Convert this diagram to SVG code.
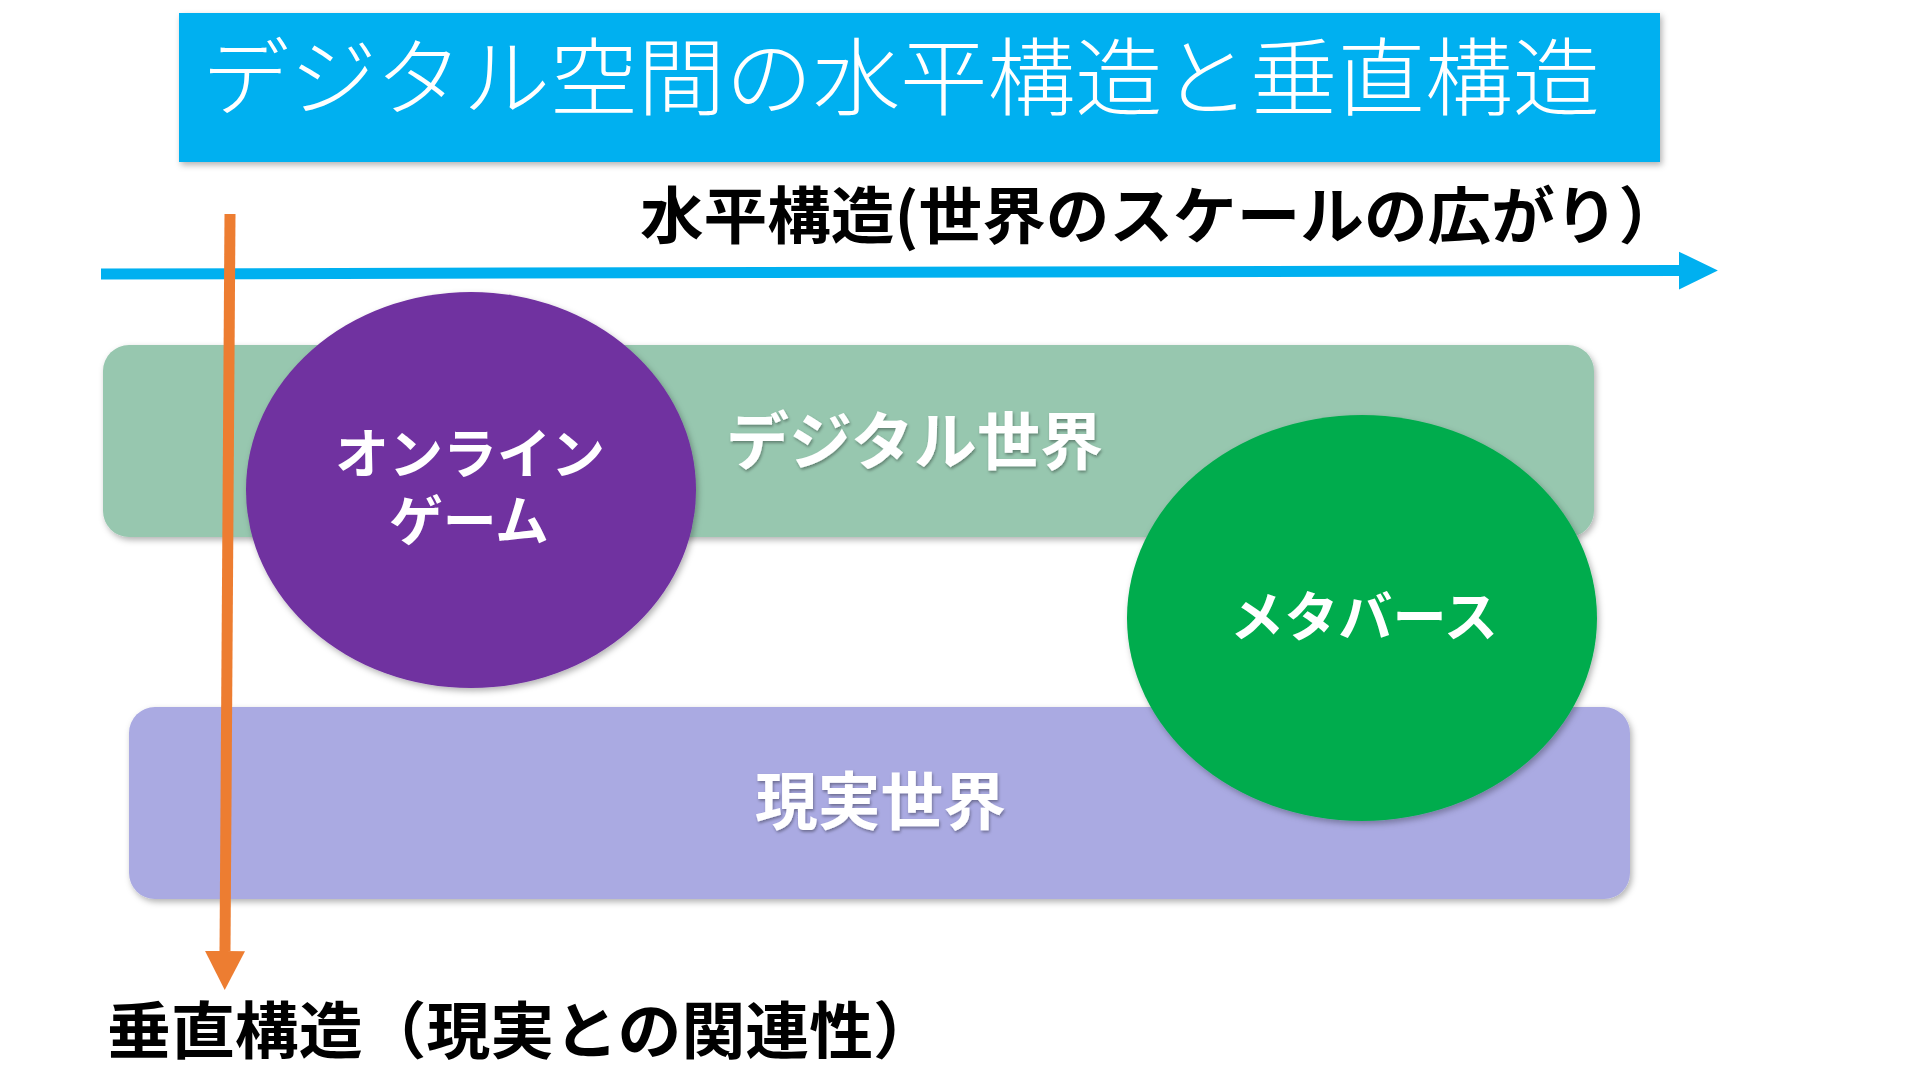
<svg xmlns="http://www.w3.org/2000/svg" width="1920" height="1080" viewBox="0 0 1920 1080">
<defs>
<style>
text{font-family:"Noto Sans CJK JP","Noto Sans CJK SC",sans-serif;}
.title{fill:#fff;font-size:85px;font-weight:300;}
.axis{fill:#000;font-size:62px;font-weight:700;}
.band{fill:#fff;font-size:63px;font-weight:700;filter:url(#tshadow);}
.node{fill:#fff;font-size:54px;font-weight:700;}
</style>
<filter id="shadow" x="-10%" y="-10%" width="120%" height="130%">
<feDropShadow dx="2" dy="3" stdDeviation="3" flood-color="#000" flood-opacity="0.3"/>
</filter>
<filter id="tshadow" x="-10%" y="-20%" width="120%" height="150%">
<feDropShadow dx="1" dy="2" stdDeviation="1.5" flood-color="#000" flood-opacity="0.35"/>
</filter>
<marker id="headBlue" markerUnits="userSpaceOnUse" markerWidth="40" markerHeight="40" refX="0" refY="17" orient="auto" viewBox="0 0 36 34">
<path d="M0,0 L35,17 L0,34 Z" fill="#00B0F0"/>
</marker>
<marker id="headOrange" markerUnits="userSpaceOnUse" markerWidth="40" markerHeight="40" refX="0" refY="18.5" orient="auto" viewBox="0 0 37 37">
<path d="M0,0 L36,18.5 L0,37 Z" fill="#ED7D31"/>
</marker>
</defs>
<rect width="1920" height="1080" fill="#fff"/>

<g id="title">
<rect x="179" y="13" width="1481" height="149" fill="#00B0F0" filter="url(#shadow)"/>
<text class="title" x="202" y="109" textLength="1398" lengthAdjust="spacingAndGlyphs">デジタル空間の水平構造と垂直構造</text>
</g>

<g id="digital-world">
<rect x="103" y="345" width="1491" height="192" rx="26" fill="#97C7AF" filter="url(#shadow)"/>
<text class="band" x="726" y="464" textLength="377" lengthAdjust="spacingAndGlyphs">デジタル世界</text>
</g>

<g id="real-world">
<rect x="129" y="707" width="1501" height="192" rx="26" fill="#AAAAE2" filter="url(#shadow)"/>
<text class="band" x="755" y="824" textLength="251" lengthAdjust="spacingAndGlyphs">現実世界</text>
</g>

<g id="online-game">
<ellipse cx="471" cy="490" rx="225" ry="198" fill="#7030A0" filter="url(#shadow)"/>
<text class="node"><tspan x="335" y="474" textLength="270" lengthAdjust="spacingAndGlyphs">オンライン</tspan><tspan x="389" y="541" textLength="160" lengthAdjust="spacingAndGlyphs">ゲーム</tspan></text>
</g>

<g id="metaverse">
<ellipse cx="1362" cy="618" rx="235" ry="203" fill="#00AC4E" filter="url(#shadow)"/>
<text class="node" x="1230" y="637" textLength="268" lengthAdjust="spacingAndGlyphs">メタバース</text>
</g>

<g id="connectors">
<line x1="101" y1="274" x2="1679" y2="270.5" stroke="#00B0F0" stroke-width="11" marker-end="url(#headBlue)"/>
<line x1="230" y1="214" x2="225" y2="951" stroke="#ED7D31" stroke-width="11" marker-end="url(#headOrange)"/>
</g>

<g id="axis-labels">
<text class="axis" x="640" y="239" textLength="1042" lengthAdjust="spacingAndGlyphs">水平構造(世界のスケールの広がり）</text>
<text class="axis" x="107" y="1054" textLength="830" lengthAdjust="spacingAndGlyphs">垂直構造（現実との関連性）</text>
</g>
</svg>
